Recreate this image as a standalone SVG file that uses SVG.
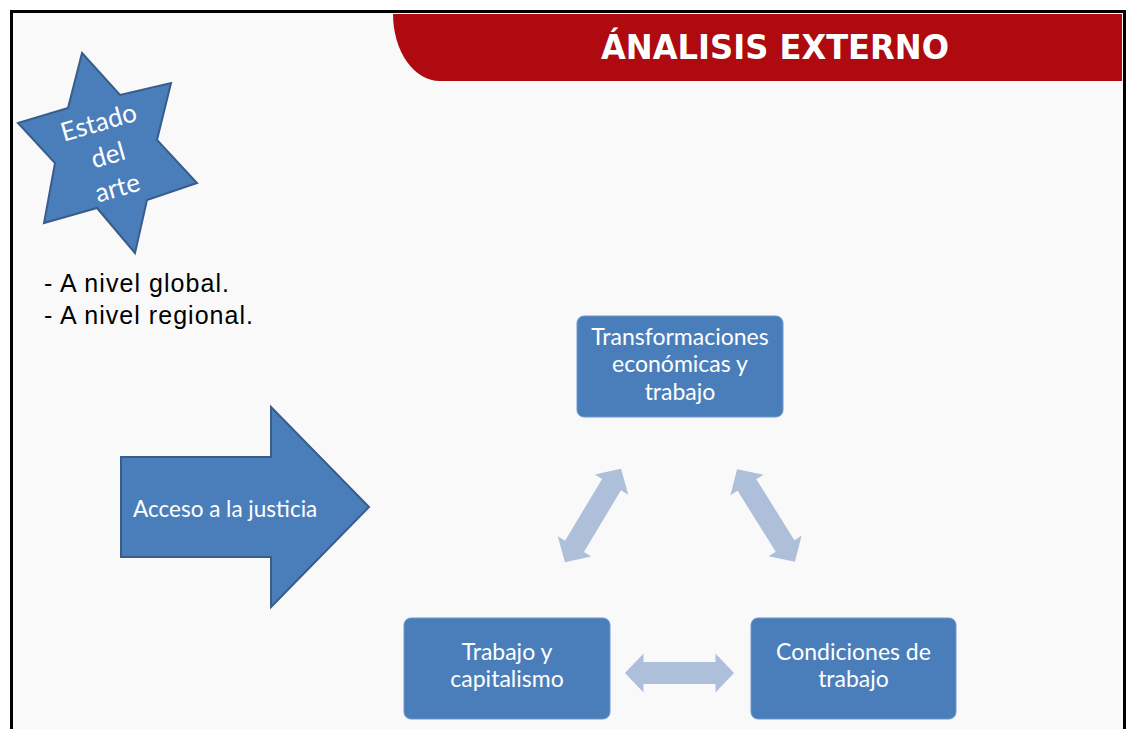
<svg xmlns="http://www.w3.org/2000/svg" width="1127" height="729" viewBox="0 0 1127 729">
<style>
.box{fill:#4a7ebb;stroke:#6f97c8;stroke-width:1}
.bt{font-family:Lato,"Open Sans",sans-serif;font-size:23px;fill:#ffffff;text-anchor:middle}
.bul{font-family:"Liberation Sans",Arial,sans-serif;font-size:25px;fill:#000000}
.dbl{fill:#aebfda}
</style>
<defs>
<path id="dbl" d="M-54.5,0 L-36,-19.5 L-36,-11 L36,-11 L36,-19.5 L54.5,0 L36,19.5 L36,11 L-36,11 L-36,19.5 Z"/>
</defs>
<rect x="0" y="0" width="1127" height="729" fill="#ffffff"/>
<rect x="11.5" y="11.5" width="1113" height="730" fill="#f9f9f9" stroke="#000000" stroke-width="3"/>
<g id="banner">
<path d="M393,14 H1122 V81 H440 A47,67 0 0 1 393,14 Z" fill="#ae0a10"/>
<text x="775" y="59" font-family="DejaVu Sans,Verdana,sans-serif" font-weight="bold" font-size="34" fill="#ffffff" text-anchor="middle" textLength="348" lengthAdjust="spacingAndGlyphs">ÁNALISIS EXTERNO</text>
</g>
<g id="star">
<polygon points="82,53 120,95 171,83 157,140 197,183 147,200 135,253 97,208 44,223 55,163 18,123 68,108" fill="#4a7ebb" stroke="#385d8a" stroke-width="2" stroke-linejoin="miter"/>
<g transform="rotate(-16 108 155)" font-family="Lato,'Open Sans',sans-serif" font-size="26" fill="#ffffff" text-anchor="middle">
<text x="108" y="130">Estado</text>
<text x="108" y="164">del</text>
<text x="108" y="198">arte</text>
</g>
</g>
<g id="bullets">
<text class="bul" x="44" y="292" textLength="185" lengthAdjust="spacing">- A nivel global.</text>
<text class="bul" x="44" y="324" textLength="209" lengthAdjust="spacing">- A nivel regional.</text>
</g>
<g id="acceso">
<path d="M121,457 H271 V407 L369,507 L271,607 V557 H121 Z" fill="#4a7ebb" stroke="#385d8a" stroke-width="2"/>
<text class="bt" x="133" y="517" style="text-anchor:start;font-size:22.5px">Acceso a la justicia</text>
</g>
<g id="transformaciones">
<rect class="box" x="577" y="316" width="206" height="101" rx="7"/>
<text class="bt" x="680" y="345">Transformaciones</text>
<text class="bt" x="680" y="372">económicas y</text>
<text class="bt" x="680" y="400">trabajo</text>
</g>
<g id="trabajo-capitalismo">
<rect class="box" x="404" y="618" width="206" height="101" rx="7"/>
<text class="bt" x="507" y="660">Trabajo y</text>
<text class="bt" x="507" y="687">capitalismo</text>
</g>
<g id="condiciones">
<rect class="box" x="751" y="618" width="205" height="101" rx="7"/>
<text class="bt" x="853.5" y="660">Condiciones de</text>
<text class="bt" x="853.5" y="687">trabajo</text>
</g>
<g id="connectors">
<use href="#dbl" class="dbl" transform="translate(679.5 673)"/>
<use href="#dbl" class="dbl" transform="translate(593 515.5) rotate(-59)"/>
<use href="#dbl" class="dbl" transform="translate(766 515.5) rotate(58)"/>
</g>
</svg>
